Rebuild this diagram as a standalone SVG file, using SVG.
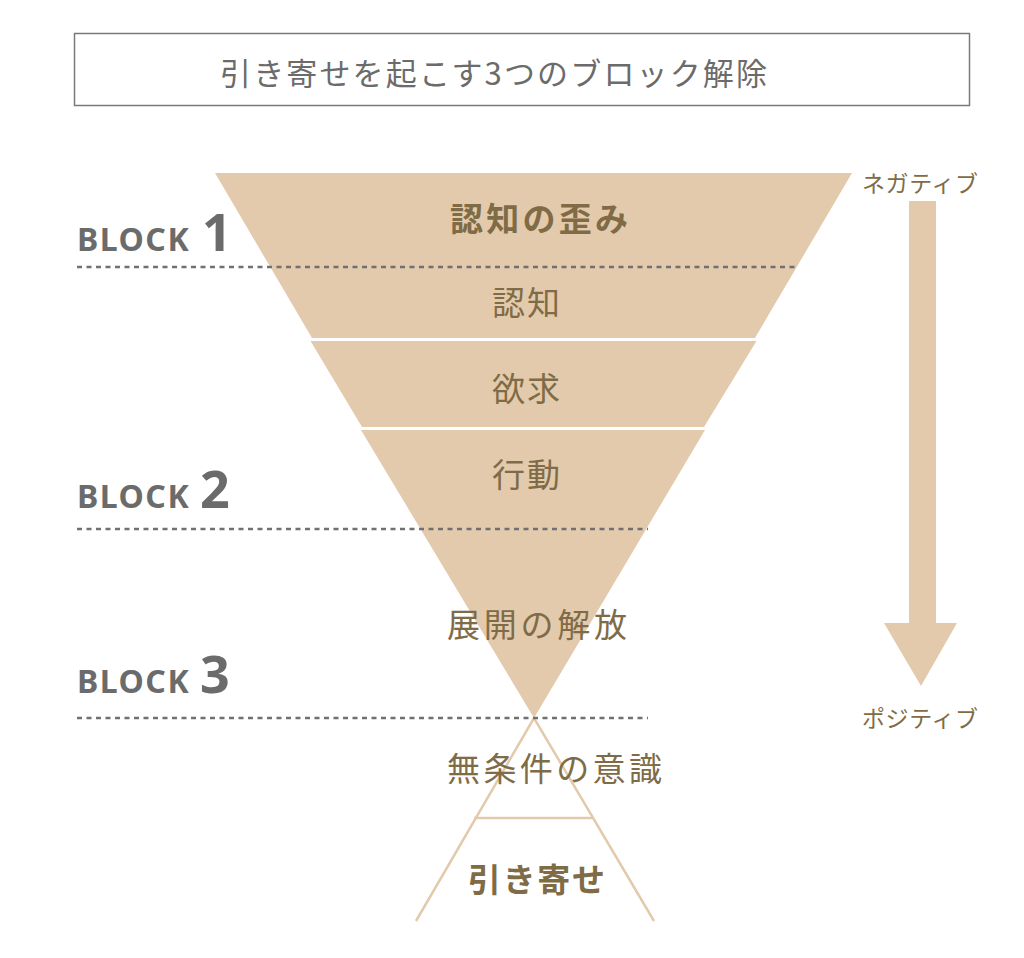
<svg xmlns="http://www.w3.org/2000/svg" width="1024" height="958" viewBox="0 0 1024 958">
<style>
.jp{font-family:"Noto Sans CJK JP","Noto Sans",sans-serif;fill:#7f6c46}
.lbl{font-size:33px}
.b{font-weight:bold}
.blk{font-family:"Noto Sans","Open Sans",sans-serif;font-weight:bold;fill:#6b6b6b}
.dot{stroke:#707070;stroke-width:2.5;stroke-dasharray:5 4.5;fill:none}
.out{stroke:#e3caad;stroke-width:2.5;fill:none}
</style>
<rect width="1024" height="958" fill="#ffffff"/>
<g id="title">
<rect x="74.5" y="33.5" width="895" height="72" fill="#ffffff" stroke="#7a7a7a" stroke-width="1.5"/>
<text x="220" y="85" font-family="Noto Sans CJK JP,sans-serif" font-size="31" fill="#6b6b6b" textLength="547" lengthAdjust="spacing">引き寄せを起こす3つのブロック解除</text>
</g>
<g id="funnel">
<polygon points="215,173 852,173 755,338 312,338" fill="#e3caad"/>
<polygon points="310.5,341 756.5,341 704,427 362,427" fill="#e3caad"/>
<polygon points="361,430 705,430 534,718" fill="#e3caad"/>
</g>
<g id="pyramid">
<polyline class="out" points="416,921 534,718 654,921"/>
<line class="out" x1="474" y1="818" x2="593" y2="818"/>
</g>
<g id="labels">
<text class="jp lbl b" x="450" y="231" textLength="178" lengthAdjust="spacing">認知の歪み</text>
<text class="jp lbl" x="492" y="315" textLength="68" lengthAdjust="spacing">認知</text>
<text class="jp lbl" x="492" y="401" textLength="68" lengthAdjust="spacing">欲求</text>
<text class="jp lbl" x="492" y="487" textLength="68" lengthAdjust="spacing">行動</text>
<text class="jp lbl" x="447" y="637" textLength="180" lengthAdjust="spacing">展開の解放</text>
<text class="jp lbl" x="447" y="781" textLength="215" lengthAdjust="spacing">無条件の意識</text>
<text class="jp lbl b" x="468" y="892" textLength="137" lengthAdjust="spacing">引き寄せ</text>
</g>
<g id="block1">
<text class="blk" x="77" y="251" font-size="32" letter-spacing="1.5">BLOCK</text>
<text class="blk" x="202" y="251" font-size="52">1</text>
</g>
<g id="block2">
<text class="blk" x="77" y="508" font-size="32" letter-spacing="1.5">BLOCK</text>
<text class="blk" x="200" y="508" font-size="52">2</text>
</g>
<g id="block3">
<text class="blk" x="77" y="693" font-size="32" letter-spacing="1.5">BLOCK</text>
<text class="blk" x="200" y="693" font-size="52">3</text>
</g>
<g id="connectors">
<line class="dot" x1="77" y1="267" x2="798" y2="267"/>
<line class="dot" x1="77" y1="529" x2="648" y2="529"/>
<line class="dot" x1="77" y1="718" x2="648" y2="718"/>
</g>
<g id="arrow">
<rect x="909" y="201" width="27" height="423" fill="#e3caad"/>
<polygon points="884,623 957,623 921,686" fill="#e3caad"/>
<text class="jp" x="862" y="192" font-size="23" textLength="116" lengthAdjust="spacing">ネガティブ</text>
<text class="jp" x="862" y="727" font-size="23" textLength="116" lengthAdjust="spacing">ポジティブ</text>
</g>
</svg>
